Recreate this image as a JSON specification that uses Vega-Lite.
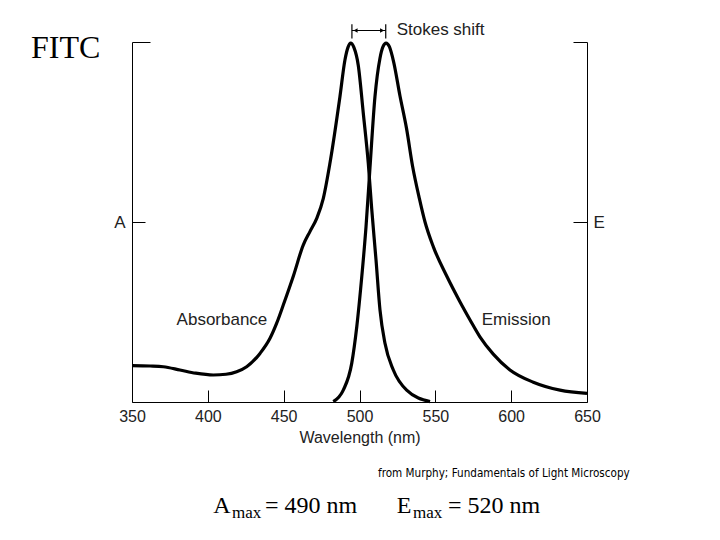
{
  "$schema": "https://vega.github.io/schema/vega-lite/v6.json",
  "width": 455,
  "height": 360,
  "autosize": {"type": "none"},
  "padding": {"left": 132, "top": 42, "right": 133, "bottom": 138},
  "background": "white",
  "config": {"view": {"stroke": null}, "axis": {"grid": false}},
  "datasets": {
    "spectra": [
      {"series": "Absorbance", "wavelength": 350, "value": 0.101},
      {"series": "Absorbance", "wavelength": 362, "value": 0.100},
      {"series": "Absorbance", "wavelength": 370.6, "value": 0.098},
      {"series": "Absorbance", "wavelength": 381.6, "value": 0.089},
      {"series": "Absorbance", "wavelength": 392, "value": 0.080},
      {"series": "Absorbance", "wavelength": 403.6, "value": 0.075},
      {"series": "Absorbance", "wavelength": 412, "value": 0.077},
      {"series": "Absorbance", "wavelength": 419, "value": 0.084},
      {"series": "Absorbance", "wavelength": 425.6, "value": 0.098},
      {"series": "Absorbance", "wavelength": 434.4, "value": 0.135},
      {"series": "Absorbance", "wavelength": 441.0, "value": 0.177},
      {"series": "Absorbance", "wavelength": 445.4, "value": 0.219},
      {"series": "Absorbance", "wavelength": 449.8, "value": 0.270},
      {"series": "Absorbance", "wavelength": 456.4, "value": 0.350},
      {"series": "Absorbance", "wavelength": 462.9, "value": 0.436},
      {"series": "Absorbance", "wavelength": 467.4, "value": 0.474},
      {"series": "Absorbance", "wavelength": 471.8, "value": 0.510},
      {"series": "Absorbance", "wavelength": 476.1, "value": 0.565},
      {"series": "Absorbance", "wavelength": 480.5, "value": 0.663},
      {"series": "Absorbance", "wavelength": 487.1, "value": 0.848},
      {"series": "Absorbance", "wavelength": 490.4, "value": 0.950},
      {"series": "Absorbance", "wavelength": 492.4, "value": 0.985},
      {"series": "Absorbance", "wavelength": 494.2, "value": 0.997},
      {"series": "Absorbance", "wavelength": 496.3, "value": 0.985},
      {"series": "Absorbance", "wavelength": 499.2, "value": 0.935},
      {"series": "Absorbance", "wavelength": 502.5, "value": 0.802},
      {"series": "Absorbance", "wavelength": 505.8, "value": 0.663},
      {"series": "Absorbance", "wavelength": 508.0, "value": 0.539},
      {"series": "Absorbance", "wavelength": 510.9, "value": 0.394},
      {"series": "Absorbance", "wavelength": 513.5, "value": 0.256},
      {"series": "Absorbance", "wavelength": 516.8, "value": 0.163},
      {"series": "Absorbance", "wavelength": 522.3, "value": 0.089},
      {"series": "Absorbance", "wavelength": 531.1, "value": 0.033},
      {"series": "Absorbance", "wavelength": 546.5, "value": 0.001},
      {"series": "Emission", "wavelength": 482.7, "value": 0.001},
      {"series": "Emission", "wavelength": 489.3, "value": 0.033},
      {"series": "Emission", "wavelength": 494.9, "value": 0.108},
      {"series": "Emission", "wavelength": 498.2, "value": 0.209},
      {"series": "Emission", "wavelength": 501.5, "value": 0.348},
      {"series": "Emission", "wavelength": 504.3, "value": 0.487},
      {"series": "Emission", "wavelength": 506.9, "value": 0.650},
      {"series": "Emission", "wavelength": 510.2, "value": 0.848},
      {"series": "Emission", "wavelength": 513.5, "value": 0.955},
      {"series": "Emission", "wavelength": 515.5, "value": 0.987},
      {"series": "Emission", "wavelength": 517.5, "value": 0.997},
      {"series": "Emission", "wavelength": 519.7, "value": 0.987},
      {"series": "Emission", "wavelength": 522.5, "value": 0.945},
      {"series": "Emission", "wavelength": 526.7, "value": 0.850},
      {"series": "Emission", "wavelength": 531.0, "value": 0.760},
      {"series": "Emission", "wavelength": 535.0, "value": 0.655},
      {"series": "Emission", "wavelength": 539.5, "value": 0.565},
      {"series": "Emission", "wavelength": 543.2, "value": 0.500},
      {"series": "Emission", "wavelength": 548.7, "value": 0.431},
      {"series": "Emission", "wavelength": 557.5, "value": 0.350},
      {"series": "Emission", "wavelength": 566.3, "value": 0.278},
      {"series": "Emission", "wavelength": 572.9, "value": 0.228},
      {"series": "Emission", "wavelength": 579.4, "value": 0.181},
      {"series": "Emission", "wavelength": 588.2, "value": 0.133},
      {"series": "Emission", "wavelength": 599.2, "value": 0.089},
      {"series": "Emission", "wavelength": 614.6, "value": 0.055},
      {"series": "Emission", "wavelength": 632.2, "value": 0.033},
      {"series": "Emission", "wavelength": 650, "value": 0.024}
    ],
    "curve_labels": [
      {"text": "Absorbance", "wavelength": 379.4, "value": 0.228},
      {"text": "Emission", "wavelength": 580.6, "value": 0.228},
      {"text": "Stokes shift", "wavelength": 524.5, "value": 1.033}
    ],
    "fitc": [{"text": "FITC", "wavelength": 283.4, "value": 0.955}],
    "credit": [{"text": "from Murphy; Fundamentals of Light Microscopy", "wavelength": 512.2, "value": -0.2075}],
    "formula_main": [
      {"text": "A", "wavelength": 403.6, "value": -0.309},
      {"text": "= 490 nm", "wavelength": 437.7, "value": -0.309},
      {"text": "E", "wavelength": 524.5, "value": -0.309},
      {"text": "= 520 nm", "wavelength": 558.3, "value": -0.309}
    ],
    "formula_sub": [
      {"text": "max", "wavelength": 415.9, "value": -0.322},
      {"text": "max", "wavelength": 535.3, "value": -0.322}
    ],
    "stokes_rules": [
      {"wavelength": 495.0, "wavelength2": 495.0, "value": 1.010, "value2": 1.049},
      {"wavelength": 517.3, "wavelength2": 517.3, "value": 1.010, "value2": 1.049},
      {"wavelength": 495.0, "wavelength2": 517.3, "value": 1.032, "value2": 1.032}
    ],
    "stokes_arrows": [
      {"wavelength": 497.4, "value": 1.032, "dir": "left"},
      {"wavelength": 514.9, "value": 1.032, "dir": "right"}
    ]
  },
  "layer": [
    {
      "data": {"name": "spectra"},
      "transform": [{"filter": "datum.series == 'Absorbance'"}],
      "mark": {"type": "line", "color": "black", "strokeWidth": 3.2, "interpolate": "monotone"},
      "encoding": {
        "x": {
          "field": "wavelength", "type": "quantitative",
          "scale": {"domain": [350, 650], "nice": false, "zero": false},
          "axis": {
            "title": "Wavelength (nm)",
            "values": [350, 400, 450, 500, 550, 600, 650],
            "tickSize": -12, "tickColor": "black", "tickWidth": 1,
            "domainColor": "black", "domainWidth": 1.2,
            "labelFont": "Liberation Sans", "labelFontSize": 16, "labelColor": "#222",
            "labelPadding": 18, "labelFlush": false, "labelOverlap": false,
            "titleFont": "Liberation Sans", "titleFontSize": 16, "titleFontWeight": "normal",
            "titleColor": "#222", "titlePadding": 5
          }
        },
        "y": {
          "field": "value", "type": "quantitative",
          "scale": {"domain": [0, 1], "nice": false, "zero": false},
          "axis": {
            "orient": "left", "title": null,
            "values": [0.5, 1],
            "labelExpr": "datum.value == 0.5 ? 'A' : ''",
            "tickSize": {"condition": {"test": "datum.value == 1", "value": -18}, "value": -13},
            "tickColor": "black", "domainColor": "black",
            "labelFont": "Liberation Sans", "labelFontSize": 17, "labelColor": "#222",
            "labelPadding": 20
          }
        }
      }
    },
    {
      "data": {"name": "spectra"},
      "transform": [{"filter": "datum.series == 'Emission'"}],
      "mark": {"type": "line", "color": "black", "strokeWidth": 3.2, "interpolate": "monotone"},
      "encoding": {
        "x": {"field": "wavelength", "type": "quantitative", "axis": null},
        "y": {
          "field": "value", "type": "quantitative",
          "axis": {
            "orient": "right", "title": null,
            "values": [0.5, 1],
            "labelExpr": "datum.value == 0.5 ? 'E' : ''",
            "tickSize": -14,
            "tickColor": "black", "domainColor": "black",
            "labelFont": "Liberation Sans", "labelFontSize": 17, "labelColor": "#222",
            "labelPadding": 20
          }
        }
      }
    },
    {
      "data": {"name": "stokes_rules"},
      "mark": {"type": "rule", "color": "black", "strokeWidth": 1.2},
      "encoding": {
        "x": {"field": "wavelength", "type": "quantitative", "axis": null},
        "x2": {"field": "wavelength2"},
        "y": {"field": "value", "type": "quantitative", "axis": null},
        "y2": {"field": "value2"}
      }
    },
    {
      "data": {"name": "stokes_arrows"},
      "mark": {"type": "point", "filled": true, "color": "black", "size": 22, "opacity": 1},
      "encoding": {
        "x": {"field": "wavelength", "type": "quantitative", "axis": null},
        "y": {"field": "value", "type": "quantitative", "axis": null},
        "shape": {"field": "dir", "type": "nominal", "scale": {"domain": ["left", "right"], "range": ["triangle-left", "triangle-right"]}, "legend": null}
      }
    },
    {
      "data": {"name": "curve_labels"},
      "mark": {"type": "text", "font": "Liberation Sans", "fontSize": 17, "color": "#222", "align": "left", "baseline": "middle"},
      "encoding": {
        "x": {"field": "wavelength", "type": "quantitative", "axis": null},
        "y": {"field": "value", "type": "quantitative", "axis": null},
        "text": {"field": "text"}
      }
    },
    {
      "data": {"name": "fitc"},
      "mark": {"type": "text", "font": "Liberation Serif", "fontSize": 32, "color": "black", "align": "left", "baseline": "alphabetic"},
      "encoding": {
        "x": {"field": "wavelength", "type": "quantitative", "axis": null},
        "y": {"field": "value", "type": "quantitative", "axis": null},
        "text": {"field": "text"}
      }
    },
    {
      "data": {"name": "credit"},
      "mark": {"type": "text", "font": "DejaVu Sans Condensed, Liberation Sans Narrow, sans-serif", "fontSize": 11.6, "color": "black", "align": "left", "baseline": "alphabetic"},
      "encoding": {
        "x": {"field": "wavelength", "type": "quantitative", "axis": null},
        "y": {"field": "value", "type": "quantitative", "axis": null},
        "text": {"field": "text"}
      }
    },
    {
      "data": {"name": "formula_main"},
      "mark": {"type": "text", "font": "Liberation Serif", "fontSize": 24, "color": "black", "align": "left", "baseline": "alphabetic"},
      "encoding": {
        "x": {"field": "wavelength", "type": "quantitative", "axis": null},
        "y": {"field": "value", "type": "quantitative", "axis": null},
        "text": {"field": "text"}
      }
    },
    {
      "data": {"name": "formula_sub"},
      "mark": {"type": "text", "font": "Liberation Serif", "fontSize": 17, "color": "black", "align": "left", "baseline": "alphabetic"},
      "encoding": {
        "x": {"field": "wavelength", "type": "quantitative", "axis": null},
        "y": {"field": "value", "type": "quantitative", "axis": null},
        "text": {"field": "text"}
      }
    }
  ],
  "resolve": {"axis": {"x": "independent", "y": "independent"}}
}
